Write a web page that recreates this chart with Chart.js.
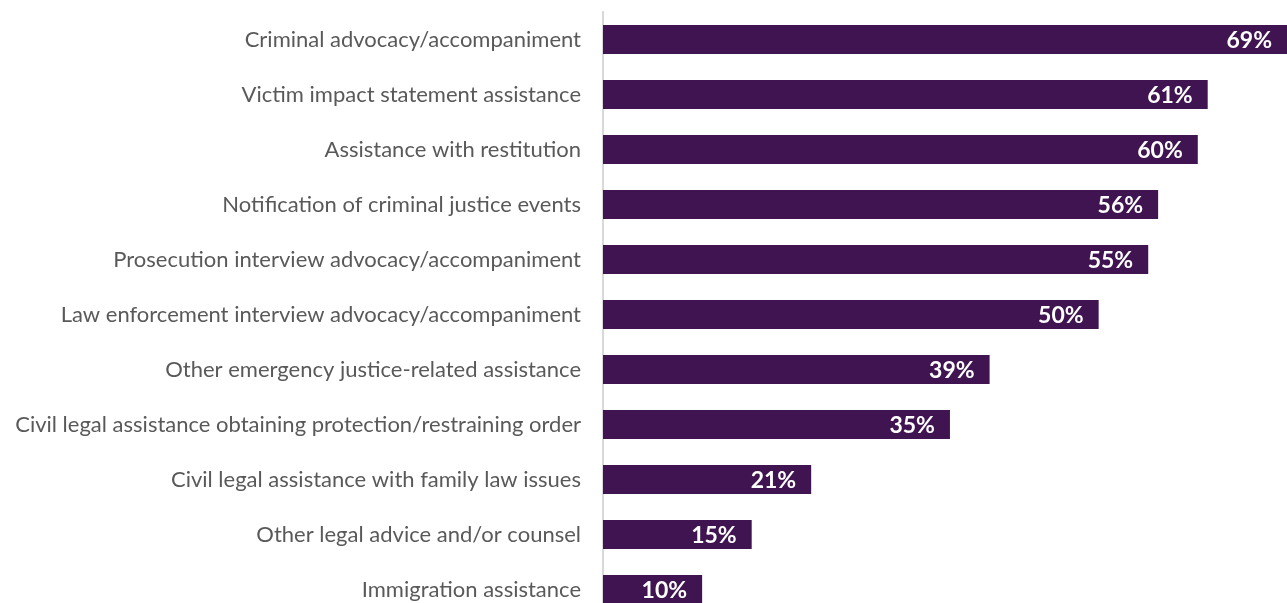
<!DOCTYPE html>
<html>
<head>
<meta charset="utf-8">
<script src="https://cdn.jsdelivr.net/npm/chart.js@4.4.1/dist/chart.umd.min.js"></script>
<style>
  html, body { margin: 0; padding: 0; overflow: hidden; background: #fff; }
  canvas { display: block; }
</style>
</head>
<body>
<canvas id="myChart" width="1287" height="618"></canvas>
<script>
const services = [
  'Criminal advocacy/accompaniment',
  'Victim impact statement assistance',
  'Assistance with restitution',
  'Notification of criminal justice events',
  'Prosecution interview advocacy/accompaniment',
  'Law enforcement interview advocacy/accompaniment',
  'Other emergency justice-related assistance',
  'Civil legal assistance obtaining protection/restraining order',
  'Civil legal assistance with family law issues',
  'Other legal advice and/or counsel',
  'Immigration assistance'
];
const shares = [69, 61, 60, 56, 55, 50, 39, 35, 21, 15, 10];

// white percentage labels inside the end of each bar
const valueLabels = {
  id: 'valueLabels',
  afterDatasetsDraw(chart) {
    const ctx = chart.ctx;
    const meta = chart.getDatasetMeta(0);
    ctx.save();
    ctx.fillStyle = '#ffffff';
    ctx.font = 'bold 23px Lato';
    ctx.textAlign = 'right';
    ctx.textBaseline = 'middle';
    meta.data.forEach((bar, i) => {
      ctx.fillText(shares[i] + '%', bar.x - 15, bar.y + 1);
    });
    ctx.restore();
  }
};

new Chart(document.getElementById('myChart'), {
  type: 'bar',
  data: {
    labels: services,
    datasets: [{
      data: shares,
      backgroundColor: '#3f1451',
      borderWidth: 0,
      barPercentage: 0.53,
      categoryPercentage: 1
    }]
  },
  options: {
    indexAxis: 'y',
    responsive: false,
    animation: false,
    layout: { padding: { top: 12, right: 0, bottom: 1, left: 0 } },
    plugins: {
      legend: { display: false },
      tooltip: { enabled: false }
    },
    scales: {
      x: {
        display: false,
        min: 0,
        max: 69
      },
      y: {
        afterFit(scale) {
          // fixed label column, no extra room for the outer labels
          scale.width = 603;
          scale.paddingTop = 0;
          scale.paddingBottom = 0;
        },
        grid: { display: false, drawTicks: false },
        border: { display: true, color: '#d9d9d9', width: 2 },
        ticks: {
          padding: 22,
          color: '#595959',
          font: { family: 'Lato', size: 22 }
        }
      }
    }
  },
  plugins: [valueLabels]
});
</script>
</body>
</html>
